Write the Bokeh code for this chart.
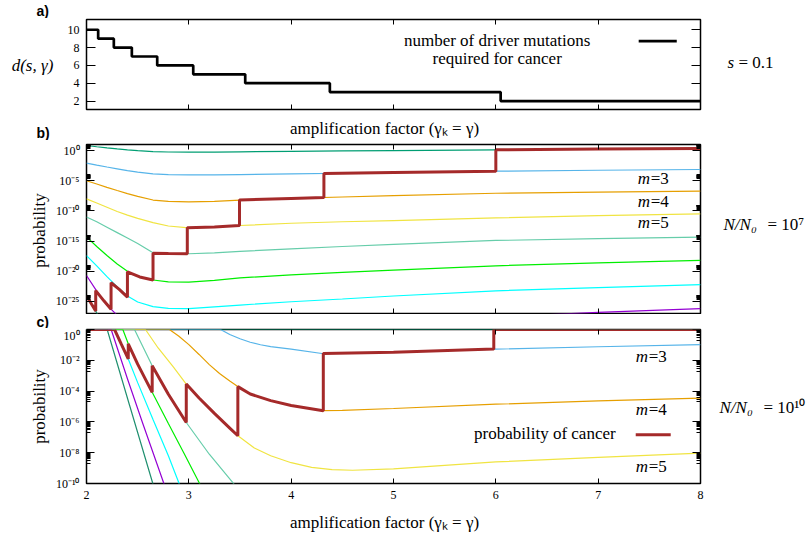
import math
from bokeh.plotting import figure
from bokeh.layouts import column, row
from bokeh.models import (LinearAxis, LogAxis, FixedTicker, Label, Range1d,
                          CustomJSTickFormatter)
from bokeh.embed import file_html
from bokeh.resources import INLINE

SERIF = "'Liberation Serif', serif"
SANS = "'Liberation Sans', sans-serif"

# ---------------- data ----------------
# panel a: number of driver mutations required for cancer, s = 0.1
gamma_steps = [2.0, 2.114, 2.267, 2.443, 2.691, 3.043, 3.551, 4.378, 6.047, 8.0]
drivers = [10, 9, 8, 7, 6, 5, 4, 3, 2, 2]

# panel b: N/N0 = 1e7, log10(probability) of curves m = 2..10
gamma_b = [2.0, 2.1, 2.2, 2.3, 2.4, 2.5, 2.65, 2.8, 3.0, 3.25, 3.5, 4.0, 4.5, 5.0, 6.0, 7.0, 8.0]
b_m2 = [0.83, 0.63, 0.44, 0.26, 0.10, -0.03, -0.17, -0.24, -0.27, -0.25, -0.21, -0.13, -0.06, 0.00, 0.12, 0.24, 0.35]
b_m3 = [-2.10, -2.42, -2.73, -3.03, -3.32, -3.57, -3.88, -3.99, -4.03, -4.02, -3.98, -3.88, -3.76, -3.65, -3.42, -3.27, -3.14]
b_m4 = [-5.00, -5.55, -6.10, -6.62, -7.13, -7.60, -8.20, -8.42, -8.50, -8.42, -8.22, -7.93, -7.70, -7.47, -7.08, -6.88, -6.73]
b_m5 = [-8.00, -8.70, -9.40, -10.10, -10.70, -11.25, -11.95, -12.50, -12.80, -12.68, -12.42, -12.05, -11.80, -11.60, -11.17, -10.80, -10.50]
b_m6 = [-11.00, -11.80, -12.70, -13.60, -14.50, -15.40, -16.95, -17.05, -17.10, -16.95, -16.70, -16.30, -15.90, -15.55, -14.90, -14.60, -14.35]
b_m7 = [-14.30, -15.90, -17.40, -18.80, -20.00, -20.85, -21.45, -21.75, -21.80, -21.50, -21.10, -20.60, -20.20, -19.80, -19.10, -18.60, -18.20]
b_m8 = [-17.40, -19.10, -20.90, -22.60, -24.10, -25.10, -25.85, -26.15, -26.20, -25.90, -25.60, -25.05, -24.60, -24.10, -23.25, -22.70, -22.20]
b_m9 = [-20.70, -23.30, -25.60, -27.30, -28.60, -29.50, -30.30, -30.70, -30.90, -30.80, -30.50, -29.90, -29.30, -28.70, -27.60, -26.80, -26.20]
b_m10 = [-24.00, -26.90, -29.50, -31.80, -33.30, -34.30, -35.10, -35.50, -35.60, -35.40, -35.10, -34.50, -33.80, -33.20, -32.00, -31.10, -30.30]
red_b_gamma = [2.0, 2.05, 2.09, 2.09, 2.17, 2.24, 2.24, 2.32, 2.40, 2.40, 2.52, 2.65, 2.65, 2.8, 2.985, 2.985,
               3.25, 3.495, 3.495, 4.0, 4.32, 4.32, 5.0, 6.0, 6.0, 7.0, 8.0]
red_b_log = [-24.0, -25.45, -26.6, -23.2, -24.9, -26.3, -21.9, -23.0, -24.3, -20.1, -20.95, -21.45, -17.0, -17.05,
             -17.1, -12.8, -12.68, -12.42, -8.2, -7.93, -7.78, -3.81, -3.65, -3.42, 0.12, 0.24, 0.35]

# panel c: N/N0 = 1e10, log10(probability), capped at 1
c_g2 = [2.0, 8.0]
c_m2 = [0.0, 0.0]
c_g3 = [2.0, 3.31, 3.4, 3.5, 3.6, 3.7, 3.8, 4.0, 4.3, 4.6, 5.0, 5.5, 6.0, 7.0, 8.0]
c_m3 = [0.0, 0.0, -0.32, -0.6, -0.83, -0.99, -1.11, -1.28, -1.56, -1.53, -1.47, -1.37, -1.27, -1.12, -0.98]
c_g4 = [2.0, 2.81, 2.9, 3.0, 3.1, 3.2, 3.3, 3.4, 3.5, 3.6, 3.8, 4.0, 4.3, 4.5, 5.0, 6.0, 7.0, 8.0]
c_m4 = [0.0, 0.0, -0.42, -0.98, -1.62, -2.28, -2.86, -3.35, -3.8, -4.19, -4.62, -4.93, -5.27, -5.25, -5.13, -4.85, -4.64, -4.45]
c_g5 = [2.0, 2.576, 2.7, 2.85, 2.975, 3.1, 3.25, 3.4, 3.48, 3.64, 3.8, 4.0, 4.2, 4.4, 4.6, 5.0, 6.0, 7.0, 8.0]
c_m5 = [0.0, 0.0, -1.2, -2.45, -3.54, -4.45, -5.45, -6.4, -6.9, -7.7, -8.2, -8.65, -8.95, -9.1, -9.14, -9.05, -8.6, -8.3, -8.03]
c_g6 = [2.0, 2.469, 2.55, 2.642, 2.8, 2.975, 3.2, 3.43, 3.6]
c_m6 = [0.0, 0.0, -1.1, -2.35, -4.2, -6.04, -8.1, -9.95, -11.3]
c_g7 = [2.0, 2.355, 2.408, 2.5, 2.642, 2.8, 2.95, 3.105, 3.3]
c_m7 = [0.0, 0.0, -0.93, -2.25, -4.08, -6.1, -8.0, -10.0, -12.3]
c_g8 = [2.0, 2.274, 2.408, 2.5, 2.65, 2.8, 2.905, 3.0]
c_m8 = [0.0, 0.0, -1.91, -3.45, -5.85, -8.2, -10.0, -11.5]
c_g9 = [2.0, 2.241, 2.4, 2.55, 2.756, 2.85]
c_m9 = [0.0, 0.0, -3.2, -6.1, -10.0, -11.8]
c_g10 = [2.0, 2.202, 2.42, 2.648, 2.75]
c_m10 = [0.0, 0.0, -4.9, -10.0, -12.3]
red_c_gamma = [2.0, 2.274, 2.34, 2.408, 2.408, 2.5, 2.642, 2.642, 2.8, 2.975, 2.975, 3.1, 3.25, 3.4, 3.479, 3.479,
               3.6, 3.8, 4.0, 4.314, 4.314, 5.0, 5.98, 5.98, 8.0]
red_c_log = [0.0, 0.0, -0.95, -1.91, -0.93, -2.25, -4.08, -2.35, -4.2, -6.04, -3.54, -4.45, -5.45, -6.4, -6.9, -3.71,
             -4.19, -4.62, -4.93, -5.28, -1.56, -1.47, -1.27, 0.0, 0.0]

colors = {2: "#009e73", 3: "#56b4e9", 4: "#e69f00", 5: "#f0e442", 6: "#66cdaa",
          7: "#00ee00", 8: "#00ffff", 9: "#9400d3", 10: "#1f8f6f"}
RED = "#a52a2a"


def pw(vals):
    return [10.0 ** v for v in vals]


def blank():
    return CustomJSTickFormatter(code="return '';")


def pow_fmt():
    return CustomJSTickFormatter(code="""
const sup = {'-': '\u207b', '0': '\u2070', '1': '\u00b9', '2': '\u00b2', '3': '\u00b3', '4': '\u2074',
             '5': '\u2075', '6': '\u2076', '7': '\u2077', '8': '\u2078', '9': '\u2079'};
const e = Math.round(Math.log10(tick));
return '10' + String(e).split('').map(c => sup[c]).join('');
""")


def style_axis(ax, tin=0, tout=0, min_in=0, min_out=0):
    ax.axis_line_color = None
    ax.major_tick_in = tin
    ax.major_tick_out = tout
    ax.minor_tick_in = min_in
    ax.minor_tick_out = min_out
    ax.major_tick_line_color = "black"
    ax.minor_tick_line_color = "black"
    ax.major_label_text_font = SERIF
    ax.major_label_text_font_size = "12px"
    ax.major_label_text_color = "black"
    ax.major_label_standoff = 7


def style_fig(p):
    p.grid.visible = False
    p.outline_line_color = "black"
    p.outline_line_width = 1.5
    p.background_fill_color = "white"
    p.border_fill_color = "white"


def txt(p, x, y, s, size="17px", font=SERIF, style="normal", align="left",
        baseline="middle", angle=0.0, x_offset=0):
    p.add_layout(Label(x=x, y=y, text=s, text_font=font, text_font_size=size,
                       text_font_style=style, text_align=align, text_baseline=baseline,
                       angle=angle, x_offset=x_offset, text_color="black"))


def side(x0, x1, h, top=0, bottom=0, y0=None):
    """plain text canvas whose coordinates are page pixels (x right, y down)"""
    fy_top = y0 + top
    fy_bot = y0 + h - bottom
    p = figure(width=x1 - x0, height=h, x_range=Range1d(x0, x1), y_range=Range1d(fy_bot, fy_top),
               x_axis_location=None, y_axis_location=None, output_backend="svg",
               toolbar_location=None, min_border_left=0, min_border_right=0,
               min_border_top=top, min_border_bottom=bottom)
    p.grid.visible = False
    p.outline_line_color = None
    p.background_fill_color = "white"
    p.border_fill_color = "white"
    return p


x_ticks = [2, 3, 4, 5, 6, 7, 8]

# ---------------- top strip ----------------
strip_a = side(0, 809, 18, y0=0)
txt(strip_a, 36, 10, "a)", size="14px", font=SANS, style="bold")

# ---------------- panel a ----------------
YA, HA = 18, 94
fa = figure(width=649, height=HA, x_range=Range1d(2, 8), y_range=Range1d(1.05, 11.15),
            output_backend="svg", toolbar_location=None,
            min_border_left=30, min_border_right=5, min_border_top=1, min_border_bottom=3)
style_fig(fa)
ax = fa.xaxis[0]
ax.ticker = FixedTicker(ticks=x_ticks)
ax.formatter = blank()
ax.fixed_location = 1.05
style_axis(ax, tin=5)
ay = fa.yaxis[0]
ay.ticker = FixedTicker(ticks=[2, 4, 6, 8, 10])
style_axis(ay, tin=9)
top_a = LinearAxis(fixed_location=11.15, ticker=FixedTicker(ticks=x_ticks), formatter=blank())
style_axis(top_a, tout=5)
fa.add_layout(top_a, "below")
right_a = LinearAxis(fixed_location=8, ticker=FixedTicker(ticks=[2, 4, 6, 8, 10]), formatter=blank())
style_axis(right_a, tout=9)
fa.add_layout(right_a, "left")

fa.step(gamma_steps, drivers, mode="after", line_color="black", line_width=2.7)
fa.line([7.396, 7.768], [8.72, 8.72], line_color="black", line_width=2.7)
txt(fa, 6.013, 8.83, "number of driver mutations", align="center")
txt(fa, 6.013, 6.82, "required for cancer", align="center")

la = side(0, 56, HA, top=1, bottom=3, y0=YA)
txt(la, 32, 65, "d(s, \u03b3)", style="italic", align="center")
ra = side(705, 809, HA, top=1, bottom=3, y0=YA)
txt(ra, 727, 62, "s", style="italic")
txt(ra, 727, 62, "= 0.1", x_offset=11)

strip_ab = side(0, 809, 28, y0=112)
txt(strip_ab, 384, 128, "amplification factor (\u03b3\u2096 = \u03b3)", align="center")
txt(strip_ab, 36, 132, "b)", size="14px", font=SANS, style="bold")

# ---------------- panel b ----------------
YB, HB = 140, 174
b_major = [10.0 ** k for k in (0, -5, -10, -15, -20, -25)]
b_minor = [j * 10.0 ** k for k in (0, -5, -10, -15, -20, -25) for j in range(2, 10)]

fb = figure(width=655, height=HB, x_range=Range1d(2, 8), y_range=Range1d(1e-27, 1e1),
            y_axis_type="log", output_backend="svg", toolbar_location=None,
            min_border_left=36, min_border_right=5, min_border_top=4, min_border_bottom=1)
style_fig(fb)
bx = fb.xaxis[0]
bx.ticker = FixedTicker(ticks=x_ticks)
bx.formatter = blank()
bx.fixed_location = 1e-27
style_axis(bx, tin=5)
by = fb.yaxis[0]
by.ticker = FixedTicker(ticks=b_major, minor_ticks=b_minor)
by.formatter = pow_fmt()
style_axis(by, tin=8, min_in=4)
top_b = LinearAxis(fixed_location=1e1, ticker=FixedTicker(ticks=x_ticks), formatter=blank())
style_axis(top_b, tout=5)
fb.add_layout(top_b, "below")
right_b = LogAxis(fixed_location=8, ticker=FixedTicker(ticks=b_major, minor_ticks=b_minor), formatter=blank())
style_axis(right_b, tout=8, min_out=4)
fb.add_layout(right_b, "left")

for m, vals in [(2, b_m2), (3, b_m3), (4, b_m4), (5, b_m5), (6, b_m6),
                (7, b_m7), (8, b_m8), (9, b_m9), (10, b_m10)]:
    fb.line(gamma_b, pw(vals), line_color=colors[m], line_width=1.2)
fb.line(red_b_gamma, pw(red_b_log), line_color=RED, line_width=3)

for lab, lv in [("3", -4.63), ("4", -8.44), ("5", -12.0)]:
    txt(fb, 7.386, 10 ** lv, "m", style="italic")
    txt(fb, 7.386, 10 ** lv, "=" + lab, x_offset=13)

lb = side(0, 50, HB, top=4, bottom=1, y0=YB)
txt(lb, 39, 230, "probability", align="center", angle=math.pi / 2)
rb = side(705, 809, HB, top=4, bottom=1, y0=YB)
txt(rb, 723, 224, "N/N\u2080", style="italic")
txt(rb, 723, 224, "= 10\u2077", x_offset=44)

strip_bc = side(0, 809, 14, y0=314)
txt(strip_bc, 36, 321, "c)", size="14px", font=SANS, style="bold")

# ---------------- panel c ----------------
YC, HC = 328, 180
c_major = [10.0 ** k for k in (0, -2, -4, -6, -8, -10)]
c_minor = [j * 10.0 ** (k - 1) for k in (0, -2, -4, -6, -8) for j in range(2, 10)]

fc = figure(width=655, height=HC, x_range=Range1d(2, 8), y_range=Range1d(1e-10, 1e0),
            y_axis_type="log", output_backend="svg", toolbar_location=None,
            min_border_left=36, min_border_right=5, min_border_top=1, min_border_bottom=25)
style_fig(fc)
cx = fc.xaxis[0]
cx.ticker = FixedTicker(ticks=x_ticks)
style_axis(cx, tin=5)
cy = fc.yaxis[0]
cy.ticker = FixedTicker(ticks=c_major, minor_ticks=c_minor)
cy.formatter = pow_fmt()
style_axis(cy, tin=8, min_in=4)
top_c = LinearAxis(fixed_location=1e0, ticker=FixedTicker(ticks=x_ticks), formatter=blank())
style_axis(top_c, tout=5)
fc.add_layout(top_c, "below")
right_c = LogAxis(fixed_location=8, ticker=FixedTicker(ticks=c_major, minor_ticks=c_minor), formatter=blank())
style_axis(right_c, tout=8, min_out=4)
fc.add_layout(right_c, "left")

for m, gx, vals in [(2, c_g2, c_m2), (3, c_g3, c_m3), (4, c_g4, c_m4), (5, c_g5, c_m5),
                    (6, c_g6, c_m6), (7, c_g7, c_m7), (8, c_g8, c_m8), (9, c_g9, c_m9),
                    (10, c_g10, c_m10)]:
    fc.line(gx, pw(vals), line_color=colors[m], line_width=1.2)
fc.line(red_c_gamma, pw(red_c_log), line_color=RED, line_width=3)
fc.line([7.367, 7.709], [10 ** -6.84, 10 ** -6.84], line_color=RED, line_width=3)

for lab, lv in [("3", -1.74), ("4", -5.21), ("5", -8.9)]:
    txt(fc, 7.367, 10 ** lv, "m", style="italic")
    txt(fc, 7.367, 10 ** lv, "=" + lab, x_offset=13)
txt(fc, 7.171, 10 ** -6.78, "probability of cancer", align="right")

lc = side(0, 50, HC, top=1, bottom=25, y0=YC)
txt(lc, 39, 406, "probability", align="center", angle=math.pi / 2)
rc = side(705, 809, HC, top=1, bottom=25, y0=YC)
txt(rc, 719, 407, "N/N\u2080", style="italic")
txt(rc, 719, 407, "= 10\u00b9\u2070", x_offset=44)

strip_c = side(0, 809, 28, y0=508)
txt(strip_c, 384, 522, "amplification factor (\u03b3\u2096 = \u03b3)", align="center")

layout = column(strip_a, row(la, fa, ra), strip_ab, row(lb, fb, rb), strip_bc,
                row(lc, fc, rc), strip_c)
open("out.html", "w").write(file_html(layout, INLINE))
